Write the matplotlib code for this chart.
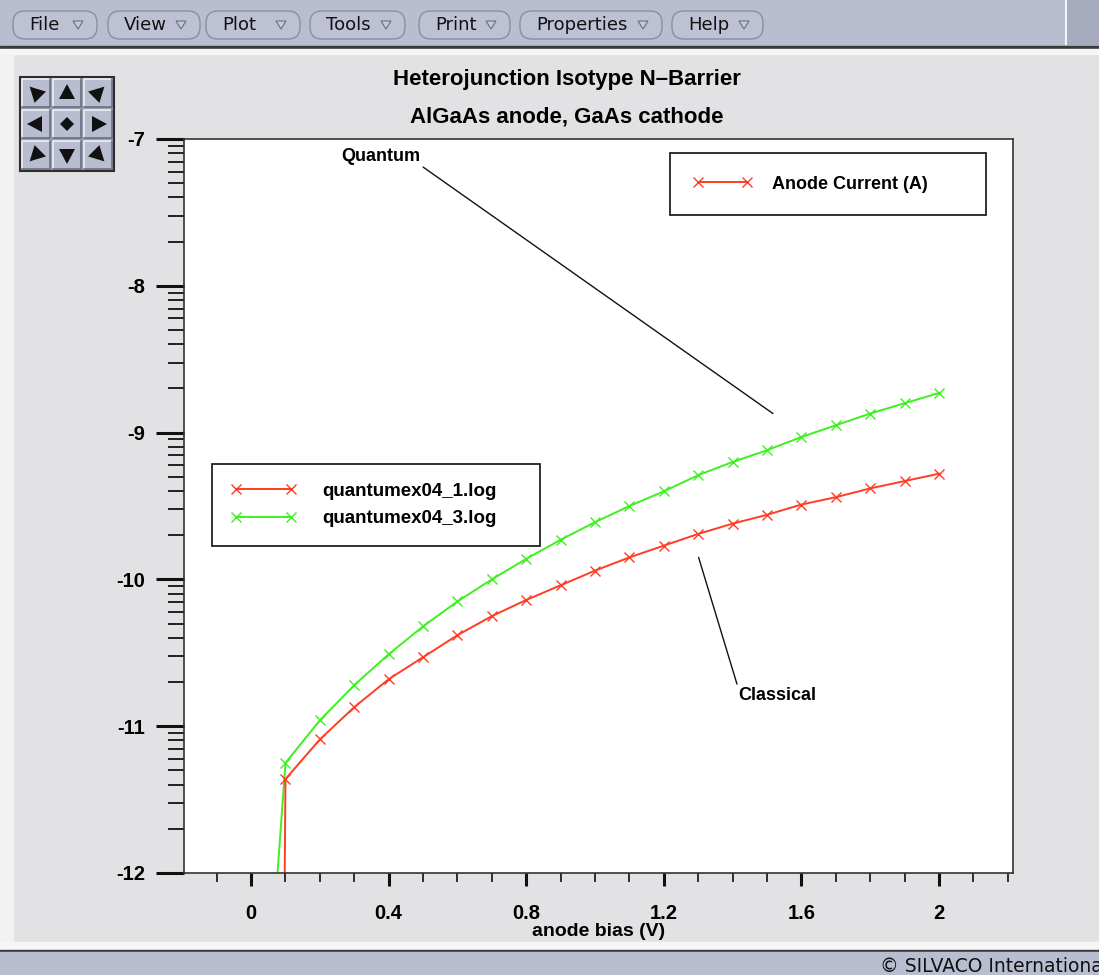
import numpy as np
import matplotlib
matplotlib.use('Agg')
import matplotlib.pyplot as plt
from matplotlib.patches import Rectangle, FancyBboxPatch, Polygon
from matplotlib.lines import Line2D
from matplotlib.ticker import MultipleLocator, LogLocator, NullFormatter, FuncFormatter

plt.rcParams['font.family'] = ['Liberation Sans', 'DejaVu Sans']
plt.rcParams['axes.unicode_minus'] = False

# anode bias sweep (V)
bias = [0.0, 0.1, 0.2, 0.3, 0.4, 0.5, 0.6, 0.7, 0.8, 0.9, 1.0,
        1.1, 1.2, 1.3, 1.4, 1.5, 1.6, 1.7, 1.8, 1.9, 2.0]
# log10 of anode current (A), classical run
log_i_classical = [-40.0, -11.36, -11.09, -10.87, -10.68, -10.53, -10.38, -10.25, -10.14, -10.04, -9.94,
                   -9.85, -9.77, -9.69, -9.62, -9.56, -9.49, -9.44, -9.38, -9.33, -9.28]
# log10 of anode current (A), quantum run
log_i_quantum = [-14.5, -11.25, -10.96, -10.72, -10.51, -10.32, -10.15, -10.00, -9.86, -9.73, -9.61,
                 -9.50, -9.40, -9.29, -9.20, -9.12, -9.03, -8.95, -8.87, -8.80, -8.73]

series_names = ['quantumex04_1.log', 'quantumex04_3.log']
menu_items = ['File', 'View', 'Plot', 'Tools', 'Print', 'Properties', 'Help']

RED = '#ff3c24'
GREEN = '#3ef020'
BAR = '#b9bdd0'
PANEL = '#e2e2e5'

W, H = 1099, 975
fig = plt.figure(figsize=(W / 100, H / 100), dpi=100)

# window chrome drawn in pixel units
bg = fig.add_axes([0, 0, 1, 1], zorder=0)
bg.set_xlim(0, W)
bg.set_ylim(H, 0)
bg.axis('off')
bg.add_patch(Rectangle((0, 0), W, H, color=PANEL))
bg.add_patch(Rectangle((0, 0), W, 46, color=BAR))
bg.add_patch(Rectangle((1066, 0), 33, 44, color='#a7abbe'))
bg.plot([1066, 1066], [0, 44], color='#f4f4f8', lw=1.5)
bg.add_patch(Rectangle((0, 46), W, 3, color='#3a3a3a'))
bg.add_patch(Rectangle((0, 49), W, 5, color='#f6f6f6'))
bg.add_patch(Rectangle((0, 54), 13, 888, color='#f2f2f2'))
bg.add_patch(Rectangle((0, 942), W, 8, color='#f6f6f6'))
bg.add_patch(Rectangle((0, 950), W, 2, color='#3a3a3a'))
bg.add_patch(Rectangle((0, 952), W, 23, color=BAR))
bg.text(880, 966, '\u00a9 SILVACO International', fontsize=13.5, family='DejaVu Sans',
        color='#111111', ha='left', va='center', clip_on=True)

# menu buttons
button_spans = [(13, 97), (108, 200), (206, 300), (310, 405), (419, 510), (520, 662), (672, 763)]
for name, (x0, x1) in zip(menu_items, button_spans):
    bg.add_patch(FancyBboxPatch((x0, 11), x1 - x0, 28,
                                boxstyle='round,pad=0,rounding_size=12',
                                fc='#bdc1d3', ec='#8a8ea2', lw=1.0))
    bg.text(x0 + 16, 25, name, fontsize=13, family='DejaVu Sans', color='#111111',
            ha='left', va='center')
    tx = x1 - 19
    bg.add_patch(Polygon([(tx - 5, 21), (tx + 5, 21), (tx, 29)], closed=True,
                         fc='#c8cad8', ec='#6a6e84', lw=0.8))

# pan pad, arrows pointing outward from the centre
bg.add_patch(Rectangle((20, 77), 94, 94, fc='#9a9eb0', ec='#2e2e2e', lw=1.5))
arrow_dirs = [[(-1, -1), (0, -1), (1, -1)],
              [(-1, 0), None, (1, 0)],
              [(-1, 1), (0, 1), (1, 1)]]
for r in range(3):
    for c in range(3):
        x0, y0 = 22 + c * 31, 79 + r * 31
        bg.add_patch(Rectangle((x0, y0), 28, 28, fc=BAR, ec='none'))
        bg.plot([x0, x0, x0 + 28], [y0 + 28, y0, y0], color='#eef0f6', lw=1.2)
        bg.plot([x0, x0 + 28, x0 + 28], [y0 + 28, y0 + 28, y0], color='#6c7084', lw=1.2)
        cx, cy = x0 + 14, y0 + 14
        d = arrow_dirs[r][c]
        if d is None:
            pts = [(cx - 7, cy), (cx, cy - 7), (cx + 7, cy), (cx, cy + 7)]
        else:
            dx, dy = np.array(d, float) / np.hypot(*d)
            px, py = -dy, dx
            pts = [(cx + 9 * dx, cy + 9 * dy),
                   (cx - 6 * dx + 8 * px, cy - 6 * dy + 8 * py),
                   (cx - 6 * dx - 8 * px, cy - 6 * dy - 8 * py)]
        bg.add_patch(Polygon(pts, closed=True, fc='#111111', ec='none'))

# titles
fig.text(567 / W, 1 - 79 / H, 'Heterojunction Isotype N\u2013Barrier', fontsize=16,
         weight='bold', ha='center', va='center')
fig.text(567 / W, 1 - 117 / H, 'AlGaAs anode, GaAs cathode', fontsize=16,
         weight='bold', ha='center', va='center')

# main plot
ax = fig.add_axes([184 / W, 1 - 873 / H, 829 / W, (873 - 139) / H], zorder=1)
ax.set_facecolor('white')
ax.set_yscale('log')

i_classical = 10.0 ** np.array(log_i_classical)
i_quantum = 10.0 ** np.array(log_i_quantum)
style = dict(marker='x', markersize=7.5, markeredgewidth=1.0, lw=1.4)
ax.plot(bias, i_quantum, color=GREEN, **style)
ax.plot(bias, i_classical, color=RED, **style)

ax.set_xlim(-0.195, 2.215)
ax.set_ylim(1e-12, 1e-7)

ax.xaxis.set_major_locator(MultipleLocator(0.4))
ax.xaxis.set_minor_locator(MultipleLocator(0.1))
ax.xaxis.set_major_formatter(FuncFormatter(lambda v, _: f'{v:g}'))
ax.yaxis.set_major_locator(LogLocator(base=10))
ax.yaxis.set_minor_locator(LogLocator(base=10, subs=np.arange(2, 10)))
ax.yaxis.set_major_formatter(FuncFormatter(lambda v, _: f'{np.log10(v):.0f}'))
ax.yaxis.set_minor_formatter(NullFormatter())

ax.tick_params(axis='y', which='major', direction='out', length=20, width=2.2, pad=8,
               labelsize=14.5, color='#111111')
ax.tick_params(axis='y', which='minor', direction='out', length=11.5, width=1.3, color='#111111')
ax.tick_params(axis='x', which='major', direction='out', length=9.5, width=2.2, pad=13,
               labelsize=14.5, color='#111111')
ax.tick_params(axis='x', which='minor', direction='out', length=6.5, width=1.2, color='#111111')
for lab in ax.get_xticklabels() + ax.get_yticklabels():
    lab.set_fontweight('bold')
for sp in ax.spines.values():
    sp.set_linewidth(1.2)
    sp.set_color('#333333')

ax.set_xlabel('anode bias (V)', fontsize=14, weight='bold', labelpad=0)

# curve labels
ax.annotate('Quantum', xy=(1.517, 10 ** -8.87), xytext=(0.492, 10 ** -7.12),
            fontsize=13, weight='bold', ha='right', va='center',
            arrowprops=dict(arrowstyle='-', color='#111111', lw=1.0,
                            shrinkA=0, shrinkB=0, relpos=(1, 0)))
ax.annotate('Classical', xy=(1.301, 10 ** -9.85), xytext=(1.415, 10 ** -10.79),
            fontsize=13, weight='bold', ha='left', va='center',
            arrowprops=dict(arrowstyle='-', color='#111111', lw=1.0,
                            shrinkA=0, shrinkB=0, relpos=(0, 1)))

# legends
h_red = Line2D([], [], color=RED, **style)
h_green = Line2D([], [], color=GREEN, **style)
leg_files = ax.legend([h_red, h_green], series_names, loc='upper left',
                      bbox_to_anchor=(212 / W, 1 - 548 / H, 328 / W, 84 / H),
                      bbox_transform=fig.transFigure, mode='expand', borderaxespad=0,
                      fancybox=False, framealpha=1, edgecolor='#222222', numpoints=2,
                      handlelength=3.5, handletextpad=1.4, borderpad=1.0, labelspacing=0.55,
                      prop=dict(size=13.5, weight='bold'))
leg_files.get_frame().set_linewidth(1.3)
ax.add_artist(leg_files)

leg_q = ax.legend([h_red], ['Anode Current (A)'], loc='upper left',
                  bbox_to_anchor=(670 / W, 1 - 210 / H, 316 / W, 57 / H),
                  bbox_transform=fig.transFigure, mode='expand', borderaxespad=0,
                  fancybox=False, framealpha=1, edgecolor='#222222', numpoints=2,
                  handlelength=3.3, handletextpad=1.1, borderpad=1.25,
                  prop=dict(size=13, weight='bold'))
leg_q.get_frame().set_linewidth(1.3)

fig.savefig('out.png', dpi=100)
